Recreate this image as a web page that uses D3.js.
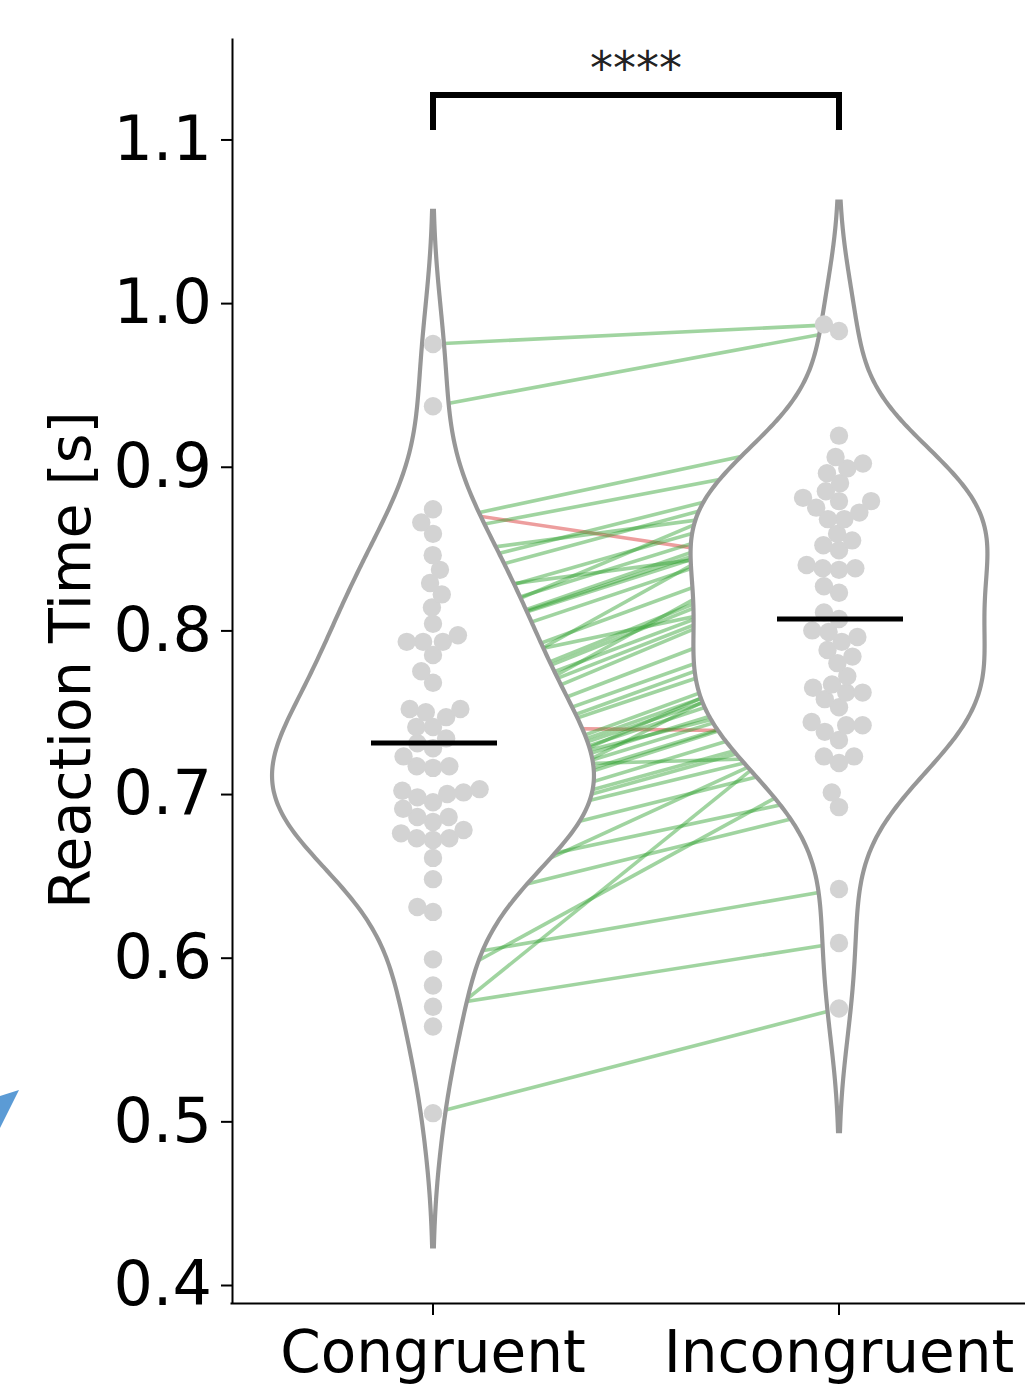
<!DOCTYPE html>
<html>
<head>
<meta charset="utf-8">
<script src="https://cdn.jsdelivr.net/npm/d3@7"></script>
<style>
  body { margin: 0; background: #fff; }
  svg { display: block; }
</style>
</head>
<body>
<div id="chart"></div>
<script>
// paired reaction times, one entry per subject (same order in both arrays)
const categories = ["Congruent", "Incongruent"]
const congruent = [0.975, 0.937, 0.874, 0.866, 0.859, 0.846, 0.837, 0.829, 0.822, 0.814,
    0.804, 0.797, 0.793, 0.793, 0.793, 0.785, 0.775, 0.768, 0.752, 0.752,
    0.750, 0.747, 0.741, 0.741, 0.734, 0.731, 0.728, 0.723, 0.717, 0.717,
    0.716, 0.703, 0.702, 0.701, 0.700, 0.698, 0.695, 0.691, 0.686, 0.686,
    0.683, 0.678, 0.676, 0.673, 0.673, 0.672, 0.661, 0.648, 0.631, 0.628,
    0.599, 0.583, 0.570, 0.558, 0.505]
const incongruent = [0.987, 0.983, 0.837, 0.919, 0.906, 0.879, 0.899, 0.896, 0.855, 0.885,
    0.881, 0.902, 0.879, 0.875, 0.872, 0.868, 0.827, 0.859, 0.890, 0.852,
    0.849, 0.840, 0.838, 0.738, 0.838, 0.868, 0.823, 0.811, 0.807, 0.800,
    0.723, 0.765, 0.793, 0.788, 0.784, 0.780, 0.772, 0.767, 0.796, 0.762,
    0.762, 0.753, 0.744, 0.742, 0.733, 0.799, 0.723, 0.701, 0.692, 0.742,
    0.642, 0.719, 0.609, 0.758, 0.569]
const yTicks = [0.4, 0.5, 0.6, 0.7, 0.8, 0.9, 1.0, 1.1]
const yLabel = "Reaction Time [s]"
const sigLabel = "****"

const SVGWIDTH = 1025, SVGHEIGHT = 1385
const FONT = "'DejaVu Sans', Verdana, sans-serif"

let svg = d3.select("#chart").append("svg")
    .attr("width", SVGWIDTH)
    .attr("height", SVGHEIGHT)
    .style("background-color", "#fff")

let yScale = d3.scaleLinear().domain([0.389, 1.162]).range([1303, 38])
let xScale = d3.scaleBand().domain(categories).range([230, 1042]).padding(0)
let xc = d => xScale(d) + xScale.bandwidth() / 2

// gaussian kde, scott bandwidth, cut = 2 like seaborn
function kde(vals) {
    let n = vals.length
    let bw = d3.deviation(vals) * Math.pow(n, -0.2)
    let lo = d3.min(vals) - 2 * bw, hi = d3.max(vals) + 2 * bw
    return d3.range(0, 241).map(i => {
        let g = lo + (hi - lo) * i / 240
        let dens = d3.sum(vals, v => Math.exp(-0.5 * ((g - v) / bw) ** 2)) / (n * bw * Math.sqrt(2 * Math.PI))
        return [g, dens]
    })
}

function swarm(vals, cx, r) {
    let pts = vals.map(v => ({ v: v, y: yScale(v), x: 0 })).sort((a, b) => b.y - a.y)
    let placed = []
    pts.forEach(p => {
        let near = placed.filter(q => Math.abs(q.y - p.y) < 2 * r)
        let cands = [0]
        near.forEach(q => {
            let dx = Math.sqrt(4 * r * r - (q.y - p.y) ** 2)
            cands.push(q.x - dx, q.x + dx)
        })
        cands.sort((a, b) => Math.abs(a) - Math.abs(b))
        p.x = cands.find(c => near.every(q => (q.x - c) ** 2 + (q.y - p.y) ** 2 >= 4 * r * r - 0.01))
        placed.push(p)
    })
    return pts.map(p => ({ v: p.v, y: p.y, x: cx + p.x }))
}

let series = [congruent, incongruent]
let densities = series.map(kde)
let maxDens = d3.max(densities, d => d3.max(d, e => e[1]))
let wScale = d3.scaleLinear().domain([0, maxDens]).range([0, 161])

// paired lines (under the violins)
let pairs = congruent.map((c, i) => [c, incongruent[i]])
svg.append("g").selectAll("line")
    .data(pairs).enter()
    .append("line")
    .attr("x1", xc(categories[0]))
    .attr("y1", d => yScale(d[0]))
    .attr("x2", xc(categories[1]))
    .attr("y2", d => yScale(d[1]))
    .attr("stroke", d => d[1] >= d[0] ? "#2ca02c" : "#d62728")
    .attr("stroke-opacity", 0.45)
    .attr("stroke-width", 3.6)

// violins
densities.forEach((dens, k) => {
    let cx = xc(categories[k])
    let area = d3.area()
        .x0(d => cx - wScale(d[1]))
        .x1(d => cx + wScale(d[1]))
        .y(d => yScale(d[0]))
        .curve(d3.curveBasis)
    svg.append("path")
        .attr("d", area(dens))
        .attr("fill", "#fff")
        .attr("stroke", "#979797")
        .attr("stroke-width", 4.2)
})

// swarm dots
series.forEach((vals, k) => {
    svg.append("g").selectAll("circle")
        .data(swarm(vals, xc(categories[k]), 8.2)).enter()
        .append("circle")
        .attr("cx", d => d.x)
        .attr("cy", d => d.y)
        .attr("r", 9.2)
        .attr("fill", "#d3d3d3")
})

// mean bars
series.forEach((vals, k) => {
    let cx = xc(categories[k]), m = d3.mean(vals)
    svg.append("line")
        .attr("x1", cx - 62).attr("x2", cx + 64)
        .attr("y1", yScale(m)).attr("y2", yScale(m))
        .attr("stroke", "#000")
        .attr("stroke-width", 5)
})

// axes
let yAxis = svg.append("g")
    .attr("transform", "translate(232,0)")
    .call(d3.axisLeft(yScale).tickValues(yTicks).tickFormat(d3.format(".1f"))
        .tickSize(11).tickSizeOuter(0).tickPadding(9))
yAxis.selectAll("text").style("font-family", FONT).style("font-size", "62px").attr("fill", "#000")
yAxis.selectAll("line, path").attr("stroke", "#000").attr("stroke-width", 2)

let xAxis = svg.append("g")
    .attr("transform", "translate(0,1303)")
    .call(d3.axisBottom(xScale).tickSize(12).tickSizeOuter(0).tickPadding(16))
xAxis.selectAll("text").style("font-family", FONT).style("font-size", "58px").attr("fill", "#000")
xAxis.selectAll("line, path").attr("stroke", "#000").attr("stroke-width", 2)

svg.append("text")
    .attr("transform", "translate(90,660) rotate(-90)")
    .attr("text-anchor", "middle")
    .style("font-family", FONT)
    .style("font-size", "57px")
    .text(yLabel)

// significance bracket
let xa = xc(categories[0]), xb = xc(categories[1])
svg.append("path")
    .attr("d", "M" + xa + ",130V95H" + xb + "V130")
    .attr("fill", "none")
    .attr("stroke", "#000")
    .attr("stroke-width", 6)
svg.append("text")
    .attr("x", (xa + xb) / 2)
    .attr("y", 84)
    .attr("text-anchor", "middle")
    .style("font-family", FONT)
    .style("font-size", "46px")
    .attr("fill", "#222")
    .text(sigLabel)

// stray blue arrow tip at the left edge of the original figure
svg.append("path")
    .attr("d", "M0,1096L19,1090L0,1128Z")
    .attr("fill", "#5b9bd5")
</script>
</body>
</html>
